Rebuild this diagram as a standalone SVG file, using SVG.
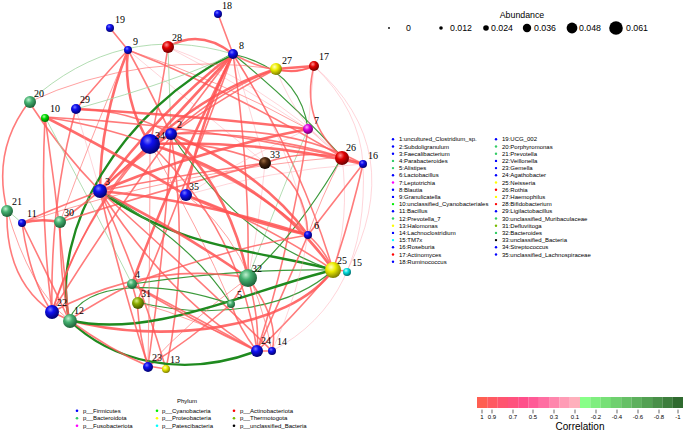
<svg xmlns="http://www.w3.org/2000/svg" width="685" height="433" viewBox="0 0 685 433">
<defs>
<radialGradient id="gB" cx="0.38" cy="0.32" r="0.7"><stop offset="0" stop-color="#7a7aff"/><stop offset="0.35" stop-color="#1010f0"/><stop offset="1" stop-color="#00006a"/></radialGradient>
<radialGradient id="gS" cx="0.38" cy="0.32" r="0.7"><stop offset="0" stop-color="#bff0cf"/><stop offset="0.4" stop-color="#45b070"/><stop offset="1" stop-color="#1c5f36"/></radialGradient>
<radialGradient id="gG" cx="0.38" cy="0.32" r="0.7"><stop offset="0" stop-color="#b0ffb0"/><stop offset="0.4" stop-color="#00dd00"/><stop offset="1" stop-color="#006a00"/></radialGradient>
<radialGradient id="gY" cx="0.38" cy="0.32" r="0.7"><stop offset="0" stop-color="#ffffc0"/><stop offset="0.4" stop-color="#eeee00"/><stop offset="1" stop-color="#7a7a00"/></radialGradient>
<radialGradient id="gR" cx="0.38" cy="0.32" r="0.7"><stop offset="0" stop-color="#ff9090"/><stop offset="0.4" stop-color="#e00000"/><stop offset="1" stop-color="#6a0000"/></radialGradient>
<radialGradient id="gM" cx="0.38" cy="0.32" r="0.7"><stop offset="0" stop-color="#ffb0ff"/><stop offset="0.4" stop-color="#dd00dd"/><stop offset="1" stop-color="#6a006a"/></radialGradient>
<radialGradient id="gC" cx="0.38" cy="0.32" r="0.7"><stop offset="0" stop-color="#c0ffff"/><stop offset="0.4" stop-color="#00dddd"/><stop offset="1" stop-color="#006a6a"/></radialGradient>
<radialGradient id="gO" cx="0.38" cy="0.32" r="0.7"><stop offset="0" stop-color="#d8ee80"/><stop offset="0.4" stop-color="#88aa00"/><stop offset="1" stop-color="#405000"/></radialGradient>
<radialGradient id="gK" cx="0.38" cy="0.32" r="0.7"><stop offset="0" stop-color="#9a6a40"/><stop offset="0.4" stop-color="#4a2810"/><stop offset="1" stop-color="#100500"/></radialGradient>
</defs>
<style>
path{fill:none;stroke-linecap:round}
.r3{stroke:#ff5252;stroke-width:2.6;opacity:.85}
.r2{stroke:#ff5a5a;stroke-width:1.6;opacity:.8}
.r1{stroke:#ff6e6e;stroke-width:1;opacity:.65}
.p1{stroke:#ff9aa6;stroke-width:.7;opacity:.6}
.g3{stroke:#1f8a1f;stroke-width:2.4}
.g2{stroke:#3c9a3c;stroke-width:1.2}
.g1{stroke:#9fd49f;stroke-width:.8}
.lbl{font-family:"Liberation Serif",serif;font-size:10px;fill:#000}
.lg{font-family:"Liberation Sans",Arial,sans-serif;font-size:6px;fill:#000}
.ab{font-family:"Liberation Sans",Arial,sans-serif;font-size:8.8px;fill:#000}
.tk{stroke:#000;stroke-width:.6}
</style>
<rect width="685" height="433" fill="#fff"/>
<g id="edges">
<path class="r2" d="M110,28 L128,50"/>
<path class="r2" d="M218,14 L233,54"/>
<path class="r2" d="M128,50 Q100,80 76,109"/>
<path class="r3" d="M128,50 Q100,120 100,191"/>
<path class="r3" d="M128,50 Q122,100 150,144"/>
<path class="r2" d="M128,50 Q150,90 171,134"/>
<path class="r2" d="M128,50 Q230,90 342,157"/>
<path class="r1" d="M128,50 Q220,80 308,129"/>
<path class="p1" d="M128,50 Q200,110 265,163"/>
<path class="r1" d="M128,50 Q90,140 60,222"/>
<path class="r3" d="M168,47 Q200,28 233,54"/>
<path class="g1" d="M168,47 L171,134"/>
<path class="r2" d="M168,47 Q160,100 150,144"/>
<path class="p1" d="M168,47 Q260,80 342,157"/>
<path class="p1" d="M168,47 Q250,90 308,129"/>
<path class="r3" d="M233,54 Q190,100 150,144"/>
<path class="r3" d="M233,54 Q160,110 100,191"/>
<path class="r3" d="M233,54 Q200,120 186,195"/>
<path class="r3" d="M233,54 Q170,180 132,284"/>
<path class="r2" d="M233,54 Q250,170 248,278"/>
<path class="r2" d="M233,54 Q120,200 52,312"/>
<path class="r2" d="M233,54 Q180,200 137,302"/>
<path class="g3" d="M233,54 C120,110 50,230 69,320"/>
<path class="g2" d="M233,54 Q300,70 308,129"/>
<path class="g2" d="M233,54 Q290,100 342,157"/>
<path class="r2" d="M233,54 Q280,80 314,66"/>
<path class="p1" d="M233,54 Q250,110 265,163"/>
<path class="p1" d="M233,54 Q290,140 308,235"/>
<path class="r2" d="M233,54 Q300,160 333,270"/>
<path class="g1" d="M233,54 Q180,80 76,109"/>
<path class="r3" d="M276,69 L314,66"/>
<path class="r2" d="M276,69 Q295,75 314,66"/>
<path class="r3" d="M276,69 Q210,90 150,144"/>
<path class="r2" d="M276,69 Q180,120 100,191"/>
<path class="r2" d="M276,69 Q220,90 171,134"/>
<path class="p1" d="M276,69 Q300,130 342,157"/>
<path class="r2" d="M314,66 Q300,120 342,157"/>
<path class="p1" d="M314,66 Q360,110 363,164"/>
<path class="p1" d="M314,66 Q410,150 347,271"/>
<path class="p1" d="M314,66 L308,129"/>
<path class="p1" d="M308,129 L342,157"/>
<path class="r3" d="M308,129 Q200,150 100,191"/>
<path class="p1" d="M308,129 Q240,160 186,195"/>
<path class="g1" d="M308,129 Q290,170 248,278"/>
<path class="r2" d="M308,129 Q290,250 257,351"/>
<path class="r2" d="M342,157 L363,164"/>
<path class="r1" d="M342,157 Q320,200 308,235"/>
<path class="r2" d="M342,157 Q300,150 265,163"/>
<path class="r2" d="M342,157 Q250,130 171,134"/>
<path class="g2" d="M342,157 Q300,230 248,278"/>
<path class="p1" d="M342,157 Q350,220 333,270"/>
<path class="r3" d="M76,109 Q190,115 308,129"/>
<path class="r2" d="M45,117 Q200,125 342,157"/>
<path class="r2" d="M60,222 Q160,190 265,163"/>
<path class="r2" d="M363,164 Q350,220 333,270"/>
<path class="r2" d="M363,164 L308,235"/>
<path class="p1" d="M363,164 Q370,300 272,351"/>
<path class="p1" d="M363,164 Q270,170 186,195"/>
<path class="r2" d="M265,163 Q305,180 308,235"/>
<path class="r2" d="M265,163 Q180,175 100,191"/>
<path class="r2" d="M265,163 Q210,140 150,144"/>
<path class="p1" d="M265,163 Q260,220 248,278"/>
<path class="r2" d="M29,102 Q-8,150 7,210"/>
<path class="r2" d="M29,102 Q60,150 100,191"/>
<path class="g1" d="M29,102 Q120,20 233,54"/>
<path class="r1" d="M29,102 Q140,50 276,69"/>
<path class="r2" d="M45,117 Q60,220 69,320"/>
<path class="r2" d="M45,117 Q40,220 52,312"/>
<path class="r3" d="M45,117 Q110,150 186,195"/>
<path class="r2" d="M45,117 Q100,125 150,144"/>
<path class="g1" d="M45,117 Q90,200 132,284"/>
<path class="p1" d="M76,109 L100,191"/>
<path class="r2" d="M76,109 Q50,200 52,312"/>
<path class="r2" d="M76,109 Q130,110 171,134"/>
<path class="r2" d="M171,134 L150,144"/>
<path class="r2" d="M171,134 Q130,160 100,191"/>
<path class="r3" d="M171,134 Q260,170 308,235"/>
<path class="g2" d="M171,134 Q240,240 333,270"/>
<path class="r2" d="M171,134 Q165,250 148,366"/>
<path class="r2" d="M171,134 Q190,260 166,369"/>
<path class="r3" d="M171,134 Q230,190 248,278"/>
<path class="r2" d="M171,134 Q280,120 363,164"/>
<path class="r2" d="M150,144 L100,191"/>
<path class="r3" d="M150,144 Q270,180 333,270"/>
<path class="r2" d="M150,144 Q80,220 52,312"/>
<path class="r2" d="M150,144 Q240,230 257,351"/>
<path class="r1" d="M150,144 Q200,230 231,304"/>
<path class="r3" d="M150,144 Q260,140 363,164"/>
<path class="r2" d="M150,144 Q250,180 308,235"/>
<path class="g3" d="M100,191 C180,250 260,250 333,270"/>
<path class="r2" d="M100,191 Q50,210 22,223"/>
<path class="r2" d="M100,191 L60,222"/>
<path class="r3" d="M100,191 Q180,230 248,278"/>
<path class="r2" d="M100,191 Q200,280 272,351"/>
<path class="r2" d="M100,191 Q170,300 257,351"/>
<path class="g2" d="M100,191 Q190,240 231,304"/>
<path class="r2" d="M100,191 Q140,280 166,369"/>
<path class="r3" d="M100,191 Q200,200 308,235"/>
<path class="g1" d="M7,210 L22,223"/>
<path class="r2" d="M7,210 Q5,280 52,312"/>
<path class="r1" d="M7,210 Q30,290 69,320"/>
<path class="r3" d="M22,223 Q40,218 60,222"/>
<path class="r2" d="M22,223 Q30,280 52,312"/>
<path class="r2" d="M22,223 Q50,280 69,320"/>
<path class="r1" d="M22,223 Q180,170 342,157"/>
<path class="r2" d="M60,222 Q60,280 69,320"/>
<path class="r2" d="M308,235 Q325,250 333,270"/>
<path class="r3" d="M308,235 Q240,220 186,195"/>
<path class="r2" d="M308,235 Q220,250 132,284"/>
<path class="r2" d="M308,235 Q280,300 257,351"/>
<path class="r2" d="M333,270 L347,271"/>
<path class="r3" d="M333,270 C290,330 160,345 69,320"/>
<path class="g2" d="M333,270 Q240,268 132,284"/>
<path class="g2" d="M333,270 C290,310 210,320 137,302"/>
<path class="r2" d="M333,270 Q290,320 257,351"/>
<path class="r2" d="M333,270 Q260,220 186,195"/>
<path class="r2" d="M248,278 L231,304"/>
<path class="r2" d="M248,278 Q150,260 52,312"/>
<path class="r2" d="M248,278 Q260,320 257,351"/>
<path class="r2" d="M248,278 Q280,320 272,351"/>
<path class="r1" d="M248,278 Q190,320 148,366"/>
<path class="r2" d="M231,304 Q240,330 257,351"/>
<path class="r2" d="M231,304 Q190,340 148,366"/>
<path class="r2" d="M132,284 L137,302"/>
<path class="r2" d="M132,284 Q100,300 69,320"/>
<path class="r2" d="M132,284 Q200,320 257,351"/>
<path class="r2" d="M137,302 Q140,340 148,366"/>
<path class="r1" d="M137,302 Q200,320 257,351"/>
<path class="r2" d="M52,312 L69,320"/>
<path class="r2" d="M52,312 Q90,200 150,144"/>
<path class="g3" d="M69,320 C110,360 180,380 257,351"/>
<path class="r2" d="M69,320 Q110,350 148,366"/>
<path class="g3" d="M69,320 C150,340 250,290 333,270"/>
<path class="g2" d="M69,320 C85,280 160,280 231,304"/>
<path class="r2" d="M148,366 L166,369"/>
<path class="r2" d="M148,366 Q120,280 100,191"/>
<path class="r1" d="M148,366 Q150,250 150,144"/>
<path class="r2" d="M257,351 L272,351"/>
<path class="r2" d="M257,351 Q190,320 132,284"/>
<path class="p1" d="M272,351 Q300,290 308,235"/>
<path class="r1" d="M272,351 Q250,240 186,195"/>
</g>
<g id="n19"><circle cx="110" cy="28" r="4" fill="url(#gB)"/><text class="lbl" x="115" y="23">19</text></g>
<g id="n9"><circle cx="128" cy="50" r="4" fill="url(#gB)"/><text class="lbl" x="133" y="45">9</text></g>
<g id="n28"><circle cx="168" cy="47" r="6" fill="url(#gR)"/><text class="lbl" x="172" y="41">28</text></g>
<g id="n18"><circle cx="218" cy="14" r="4" fill="url(#gB)"/><text class="lbl" x="222" y="9">18</text></g>
<g id="n8"><circle cx="233" cy="54" r="5" fill="url(#gB)"/><text class="lbl" x="239" y="49">8</text></g>
<g id="n27"><circle cx="276" cy="69" r="6" fill="url(#gY)"/><text class="lbl" x="282" y="64">27</text></g>
<g id="n17"><circle cx="314" cy="66" r="5" fill="url(#gR)"/><text class="lbl" x="319" y="60">17</text></g>
<g id="n7"><circle cx="308" cy="129" r="5" fill="url(#gM)"/><text class="lbl" x="314" y="124">7</text></g>
<g id="n26"><circle cx="342" cy="158" r="7" fill="url(#gR)"/><text class="lbl" x="346" y="151">26</text></g>
<g id="n16"><circle cx="363" cy="164" r="4" fill="url(#gB)"/><text class="lbl" x="368" y="159">16</text></g>
<g id="n33"><circle cx="265" cy="163" r="6" fill="url(#gK)"/><text class="lbl" x="270" y="158">33</text></g>
<g id="n20"><circle cx="30" cy="102" r="6" fill="url(#gS)"/><text class="lbl" x="34" y="97">20</text></g>
<g id="n10"><circle cx="45" cy="118" r="4" fill="url(#gG)"/><text class="lbl" x="50" y="112">10</text></g>
<g id="n29"><circle cx="76" cy="109" r="5" fill="url(#gB)"/><text class="lbl" x="80" y="103">29</text></g>
<g id="n34"><circle cx="150" cy="144" r="10" fill="url(#gB)"/><text class="lbl" x="155" y="139">34</text></g>
<g id="n2"><circle cx="171" cy="134" r="6" fill="url(#gB)"/><text class="lbl" x="177" y="128">2</text></g>
<g id="n3"><circle cx="100" cy="191" r="7" fill="url(#gB)"/><text class="lbl" x="105" y="185">3</text></g>
<g id="n35"><circle cx="186" cy="195" r="6" fill="url(#gB)"/><text class="lbl" x="189" y="190">35</text></g>
<g id="n21"><circle cx="7" cy="211" r="6" fill="url(#gS)"/><text class="lbl" x="12" y="205">21</text></g>
<g id="n11"><circle cx="22" cy="223" r="4" fill="url(#gB)"/><text class="lbl" x="27" y="217">11</text></g>
<g id="n30"><circle cx="60" cy="222" r="6" fill="url(#gS)"/><text class="lbl" x="64" y="216">30</text></g>
<g id="n6"><circle cx="308" cy="235" r="4" fill="url(#gB)"/><text class="lbl" x="314" y="229">6</text></g>
<g id="n25"><circle cx="333" cy="270" r="8" fill="url(#gY)"/><text class="lbl" x="337" y="264">25</text></g>
<g id="n15"><circle cx="347" cy="272" r="4" fill="url(#gC)"/><text class="lbl" x="352" y="266">15</text></g>
<g id="n32"><circle cx="248" cy="278" r="9" fill="url(#gS)"/><text class="lbl" x="252" y="272">32</text></g>
<g id="n5"><circle cx="231" cy="304" r="4" fill="url(#gS)"/><text class="lbl" x="237" y="298">5</text></g>
<g id="n4"><circle cx="132" cy="284" r="5" fill="url(#gS)"/><text class="lbl" x="135" y="278">4</text></g>
<g id="n31"><circle cx="138" cy="303" r="6" fill="url(#gO)"/><text class="lbl" x="141" y="297">31</text></g>
<g id="n22"><circle cx="52" cy="312" r="7" fill="url(#gB)"/><text class="lbl" x="57" y="306">22</text></g>
<g id="n12"><circle cx="70" cy="321" r="7" fill="url(#gS)"/><text class="lbl" x="74" y="314">12</text></g>
<g id="n23"><circle cx="148" cy="367" r="5" fill="url(#gB)"/><text class="lbl" x="152" y="361">23</text></g>
<g id="n13"><circle cx="166" cy="369" r="4" fill="url(#gY)"/><text class="lbl" x="170" y="363">13</text></g>
<g id="n24"><circle cx="257" cy="351" r="6" fill="url(#gB)"/><text class="lbl" x="261" y="344">24</text></g>
<g id="n14"><circle cx="272" cy="351" r="4" fill="url(#gB)"/><text class="lbl" x="277" y="345">14</text></g>
<g id="abundance">
<text class="ab" x="522" y="18" text-anchor="middle" font-size="9.5">Abundance</text>
<circle cx="389" cy="28" r="0.9" fill="#000"/><text class="ab" x="406" y="31">0</text>
<circle cx="441" cy="28" r="1.8" fill="#000"/><text class="ab" x="450" y="31">0.012</text>
<circle cx="486" cy="28" r="2.8" fill="#000"/><text class="ab" x="491" y="31">0.024</text>
<circle cx="527" cy="28" r="4.2" fill="#000"/><text class="ab" x="534" y="31">0.036</text>
<circle cx="572" cy="28" r="5.4" fill="#000"/><text class="ab" x="579" y="31">0.048</text>
<circle cx="616" cy="28" r="6.8" fill="#000"/><text class="ab" x="626" y="31">0.061</text>
</g>
<g id="taxa">
<circle cx="393" cy="139.3" r="1.2" fill="#0000ff"/><text class="lg" x="399" y="141.3">1:uncultured_Clostridium_sp.</text>
<circle cx="393" cy="146.5" r="1.2" fill="#0000ff"/><text class="lg" x="399" y="148.5">2:Subdoligranulum</text>
<circle cx="393" cy="153.7" r="1.2" fill="#0000ff"/><text class="lg" x="399" y="155.7">3:Faecalibacterium</text>
<circle cx="393" cy="160.9" r="1.2" fill="#33cc66"/><text class="lg" x="399" y="162.9">4:Parabacteroides</text>
<circle cx="393" cy="168.1" r="1.2" fill="#33cc66"/><text class="lg" x="399" y="170.1">5:Alistipes</text>
<circle cx="393" cy="175.3" r="1.2" fill="#0000ff"/><text class="lg" x="399" y="177.3">6:Lactobacillus</text>
<circle cx="393" cy="182.5" r="1.2" fill="#ff00ff"/><text class="lg" x="399" y="184.5">7:Leptotrichia</text>
<circle cx="393" cy="189.7" r="1.2" fill="#0000ff"/><text class="lg" x="399" y="191.7">8:Blautia</text>
<circle cx="393" cy="196.9" r="1.2" fill="#0000ff"/><text class="lg" x="399" y="198.9">9:Granulicatella</text>
<circle cx="393" cy="204.1" r="1.2" fill="#00ee00"/><text class="lg" x="399" y="206.1">10:unclassified_Cyanobacteriales</text>
<circle cx="393" cy="211.3" r="1.2" fill="#0000ff"/><text class="lg" x="399" y="213.3">11:Bacillus</text>
<circle cx="393" cy="218.5" r="1.2" fill="#33cc66"/><text class="lg" x="399" y="220.5">12:Prevotella_7</text>
<circle cx="393" cy="225.7" r="1.2" fill="#ffff00"/><text class="lg" x="399" y="227.7">13:Halomonas</text>
<circle cx="393" cy="232.9" r="1.2" fill="#0000ff"/><text class="lg" x="399" y="234.9">14:Lachnoclostridium</text>
<circle cx="393" cy="240.1" r="1.2" fill="#00ffff"/><text class="lg" x="399" y="242.1">15:TM7x</text>
<circle cx="393" cy="247.3" r="1.2" fill="#0000ff"/><text class="lg" x="399" y="249.3">16:Roseburia</text>
<circle cx="393" cy="254.5" r="1.2" fill="#ff0000"/><text class="lg" x="399" y="256.5">17:Actinomyces</text>
<circle cx="393" cy="261.7" r="1.2" fill="#0000ff"/><text class="lg" x="399" y="263.7">18:Ruminococcus</text>
<circle cx="496" cy="139.3" r="1.2" fill="#0000ff"/><text class="lg" x="502" y="141.3">19:UCG_002</text>
<circle cx="496" cy="146.5" r="1.2" fill="#33cc66"/><text class="lg" x="502" y="148.5">20:Porphyromonas</text>
<circle cx="496" cy="153.7" r="1.2" fill="#33cc66"/><text class="lg" x="502" y="155.7">21:Prevotella</text>
<circle cx="496" cy="160.9" r="1.2" fill="#0000ff"/><text class="lg" x="502" y="162.9">22:Veillonella</text>
<circle cx="496" cy="168.1" r="1.2" fill="#0000ff"/><text class="lg" x="502" y="170.1">23:Gemella</text>
<circle cx="496" cy="175.3" r="1.2" fill="#0000ff"/><text class="lg" x="502" y="177.3">24:Agathobacter</text>
<circle cx="496" cy="182.5" r="1.2" fill="#ffff00"/><text class="lg" x="502" y="184.5">25:Neisseria</text>
<circle cx="496" cy="189.7" r="1.2" fill="#ff0000"/><text class="lg" x="502" y="191.7">26:Rothia</text>
<circle cx="496" cy="196.9" r="1.2" fill="#ffff00"/><text class="lg" x="502" y="198.9">27:Haemophilus</text>
<circle cx="496" cy="204.1" r="1.2" fill="#ff0000"/><text class="lg" x="502" y="206.1">28:Bifidobacterium</text>
<circle cx="496" cy="211.3" r="1.2" fill="#0000ff"/><text class="lg" x="502" y="213.3">29:Ligilactobacillus</text>
<circle cx="496" cy="218.5" r="1.2" fill="#33cc66"/><text class="lg" x="502" y="220.5">30:unclassified_Muribaculaceae</text>
<circle cx="496" cy="225.7" r="1.2" fill="#77bb00"/><text class="lg" x="502" y="227.7">31:Defluviitoga</text>
<circle cx="496" cy="232.9" r="1.2" fill="#33cc66"/><text class="lg" x="502" y="234.9">32:Bacteroides</text>
<circle cx="496" cy="240.1" r="1.2" fill="#000000"/><text class="lg" x="502" y="242.1">33:unclassified_Bacteria</text>
<circle cx="496" cy="247.3" r="1.2" fill="#0000ff"/><text class="lg" x="502" y="249.3">34:Streptococcus</text>
<circle cx="496" cy="254.5" r="1.2" fill="#0000ff"/><text class="lg" x="502" y="256.5">35:unclassified_Lachnospiraceae</text>
</g>
<g id="phylum">
<text class="lg" x="187" y="403" text-anchor="middle" font-size="6.5">Phylum</text>
<circle cx="77" cy="410.7" r="1.3" fill="#0000ff"/><text class="lg" x="83" y="412.7">p__Firmicutes</text>
<circle cx="77" cy="418.3" r="1.3" fill="#33cc66"/><text class="lg" x="83" y="420.3">p__Bacteroidota</text>
<circle cx="77" cy="425.7" r="1.3" fill="#ff00ff"/><text class="lg" x="83" y="427.7">p__Fusobacteriota</text>
<circle cx="157" cy="410.7" r="1.3" fill="#00ee00"/><text class="lg" x="162" y="412.7">p__Cyanobacteria</text>
<circle cx="157" cy="418.3" r="1.3" fill="#ffff00"/><text class="lg" x="162" y="420.3">p__Proteobacteria</text>
<circle cx="157" cy="425.7" r="1.3" fill="#00ffff"/><text class="lg" x="162" y="427.7">p__Patescibacteria</text>
<circle cx="234" cy="410.7" r="1.3" fill="#ff0000"/><text class="lg" x="240" y="412.7">p__Actinobacteriota</text>
<circle cx="234" cy="418.3" r="1.3" fill="#77bb00"/><text class="lg" x="240" y="420.3">p__Thermotogota</text>
<circle cx="234" cy="425.7" r="1.3" fill="#000000"/><text class="lg" x="240" y="427.7">p__unclassified_Bacteria</text>
</g>
<g id="correlation">
<rect x="477" y="397" width="10.4" height="11" fill="#ff5f52"/>
<rect x="487.3" y="397" width="10.4" height="11" fill="#ff5a62"/>
<rect x="497.6" y="397" width="10.4" height="11" fill="#ff5570"/>
<rect x="507.9" y="397" width="10.4" height="11" fill="#ff527e"/>
<rect x="518.2" y="397" width="10.4" height="11" fill="#ff4f8a"/>
<rect x="528.5" y="397" width="10.4" height="11" fill="#ff5a96"/>
<rect x="538.8" y="397" width="10.4" height="11" fill="#ff6ea2"/>
<rect x="549.1" y="397" width="10.4" height="11" fill="#ff86ad"/>
<rect x="559.4" y="397" width="10.4" height="11" fill="#ff9cb6"/>
<rect x="569.7" y="397" width="10.4" height="11" fill="#ffb0bc"/>
<rect x="580" y="397" width="10.4" height="11" fill="#88ff88"/>
<rect x="590.3" y="397" width="10.4" height="11" fill="#7fee7f"/>
<rect x="600.6" y="397" width="10.4" height="11" fill="#77e077"/>
<rect x="610.9" y="397" width="10.4" height="11" fill="#6fd06f"/>
<rect x="621.2" y="397" width="10.4" height="11" fill="#66c066"/>
<rect x="631.5" y="397" width="10.4" height="11" fill="#5db05d"/>
<rect x="641.8" y="397" width="10.4" height="11" fill="#52a052"/>
<rect x="652.1" y="397" width="10.4" height="11" fill="#488f48"/>
<rect x="662.4" y="397" width="10.4" height="11" fill="#3d7e3d"/>
<rect x="672.7" y="397" width="10.3" height="11" fill="#2f6a2f"/>
<path class="tk" d="M482,410V413M492,410V413M513,410V413M533,410V413M554,410V413M575,410V413M596,410V413M617,410V413M638,410V413M659,410V413M678,410V413"/>
<g class="lg" text-anchor="middle" font-size="5">
<text x="482" y="419">1</text><text x="492" y="419">0.9</text><text x="513" y="419">0.7</text><text x="533" y="419">0.5</text><text x="554" y="419">0.3</text><text x="575" y="419">0.1</text><text x="596" y="419">-0.2</text><text x="617" y="419">-0.4</text><text x="638" y="419">-0.6</text><text x="659" y="419">-0.8</text><text x="678" y="419">-1</text>
</g>
<text x="580" y="430" text-anchor="middle" font-family="Liberation Sans, Arial, sans-serif" font-size="10">Correlation</text>
</g>
</svg>
